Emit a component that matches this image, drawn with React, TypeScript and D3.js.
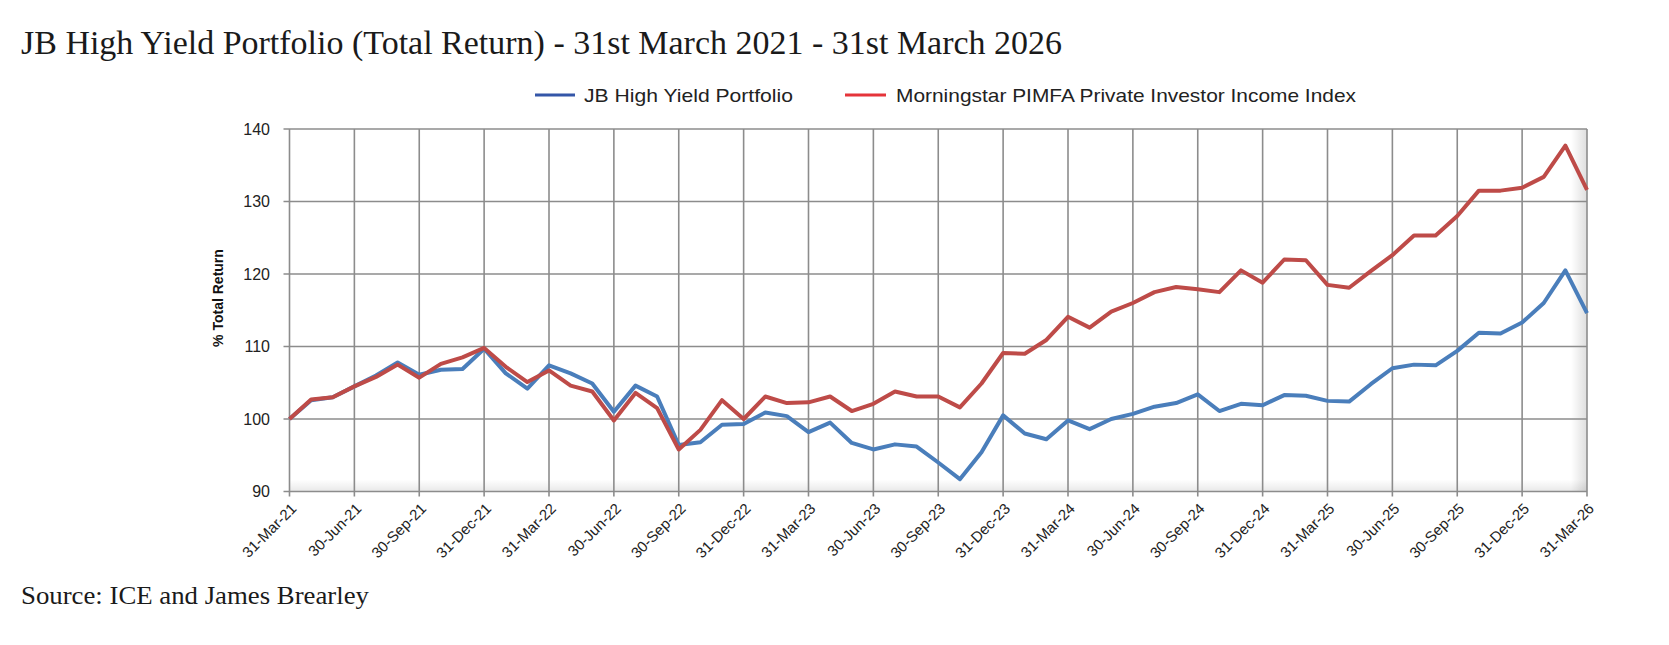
import React from 'react';
import * as d3 from 'd3';

// quarter-end tick labels on the x axis
const quarterLabels = [
  '31-Mar-21', '30-Jun-21', '30-Sep-21', '31-Dec-21',
  '31-Mar-22', '30-Jun-22', '30-Sep-22', '31-Dec-22',
  '31-Mar-23', '30-Jun-23', '30-Sep-23', '31-Dec-23',
  '31-Mar-24', '30-Jun-24', '30-Sep-24', '31-Dec-24',
  '31-Mar-25', '30-Jun-25', '30-Sep-25', '31-Dec-25',
  '31-Mar-26',
];

// monthly values, Mar-21 .. Mar-26
const jbHighYield = [
  100.0, 102.6, 103.0, 104.5, 106.0, 107.8, 106.1, 106.8, 106.9, 109.7,
  106.3, 104.2, 107.4, 106.3, 104.9, 101.0, 104.6, 103.1, 96.4, 96.8,
  99.2, 99.3, 100.9, 100.4, 98.2, 99.5, 96.7, 95.8, 96.5, 96.2,
  94.0, 91.7, 95.4, 100.5, 98.0, 97.2, 99.8, 98.6, 100.0, 100.7,
  101.7, 102.2, 103.4, 101.1, 102.1, 101.9, 103.3, 103.2, 102.5, 102.4,
  104.8, 107.0, 107.5, 107.4, 109.4, 111.9, 111.8, 113.3, 116.0, 120.5,
  114.6,
];

const pimfaIncome = [
  100.0, 102.7, 103.0, 104.5, 105.8, 107.5, 105.7, 107.6, 108.5, 109.8,
  107.2, 105.1, 106.7, 104.6, 103.8, 99.8, 103.6, 101.5, 95.8, 98.5,
  102.6, 100.0, 103.1, 102.2, 102.3, 103.1, 101.1, 102.1, 103.8, 103.1,
  103.1, 101.6, 104.9, 109.1, 109.0, 110.9, 114.1, 112.6, 114.8, 116.0,
  117.5, 118.2, 117.9, 117.5, 120.5, 118.8, 122.0, 121.9, 118.5, 118.1,
  120.4, 122.6, 125.3, 125.3, 128.0, 131.5, 131.5, 131.9, 133.4, 137.7,
  131.6,
];

const yTicks = [90, 100, 110, 120, 130, 140];

const seriesNames = ['JB High Yield Portfolio', 'Morningstar PIMFA Private Investor Income Index'];

const W = 1669;
const H = 645;
const plot = { left: 289.5, right: 1587, top: 129, bottom: 491.5 };

export default function App() {
  const x = d3.scaleLinear().domain([0, jbHighYield.length - 1]).range([plot.left, plot.right]);
  const y = d3.scaleLinear().domain([90, 140]).range([plot.bottom, plot.top]);
  const line = d3.line<number>()
    .x((d, i) => x(i))
    .y(d => y(d));

  const grid = '#8c8c8c';
  const sans = '"Liberation Sans", Arial, sans-serif';
  const serif = '"Liberation Serif", "Times New Roman", serif';

  return (
    <svg width={W} height={H} style={{ position: 'absolute', left: 0, top: 0, background: '#fff' }}>
      <defs>
        <linearGradient id="shadeR" x1="0" x2="1" y1="0" y2="0">
          <stop offset="0" stopColor="#000" stopOpacity="0" />
          <stop offset="1" stopColor="#000" stopOpacity="0.13" />
        </linearGradient>
        <linearGradient id="shadeB" x1="0" x2="0" y1="0" y2="1">
          <stop offset="0" stopColor="#000" stopOpacity="0" />
          <stop offset="1" stopColor="#000" stopOpacity="0.09" />
        </linearGradient>
      </defs>

      <text x={21} y={54} fontFamily={serif} fontSize={34} fill="#1a1a1a"
        textLength={1041} lengthAdjust="spacingAndGlyphs">
        JB High Yield Portfolio (Total Return) - 31st March 2021 - 31st March 2026
      </text>

      {/* legend */}
      <g fontFamily={sans} fontSize={19} fill="#222">
        <line x1={535} x2={575} y1={95} y2={95} stroke="#3456a8" strokeWidth={3} />
        <text x={584} y={101.5} textLength={209} lengthAdjust="spacingAndGlyphs">{seriesNames[0]}</text>
        <line x1={845} x2={886} y1={95} y2={95} stroke="#e5343a" strokeWidth={3} />
        <text x={896} y={101.5} textLength={460} lengthAdjust="spacingAndGlyphs">{seriesNames[1]}</text>
      </g>

      {/* plot shading */}
      <rect x={plot.right - 16} y={plot.top} width={16} height={plot.bottom - plot.top} fill="url(#shadeR)" />
      <rect x={plot.left} y={plot.bottom - 12} width={plot.right - plot.left} height={12} fill="url(#shadeB)" />

      {/* grid */}
      <g stroke={grid} strokeWidth={1.6}>
        {yTicks.map(t => (
          <line key={t} x1={plot.left - 6} x2={plot.right} y1={y(t)} y2={y(t)} />
        ))}
        {quarterLabels.map((q, i) => (
          <line key={q} x1={x(i * 3)} x2={x(i * 3)} y1={plot.top} y2={plot.bottom + 5} />
        ))}
      </g>

      {/* y axis labels */}
      <g fontFamily={sans} fontSize={16} fill="#222" textAnchor="end">
        {yTicks.map(t => (
          <text key={t} x={270} y={y(t) + 5.5}>{t}</text>
        ))}
      </g>
      <text transform="translate(223,298) rotate(-90)" textAnchor="middle" fontFamily={sans}
        fontSize={14} fontWeight="bold" fill="#111">% Total Return</text>

      {/* x axis labels */}
      <g fontFamily={sans} fontSize={15} fill="#222" textAnchor="end">
        {quarterLabels.map((q, i) => (
          <text key={q} transform={`translate(${x(i * 3) + 8},${plot.bottom + 18}) rotate(-45)`}>{q}</text>
        ))}
      </g>

      {/* series */}
      <path d={line(jbHighYield) ?? ''} fill="none" stroke="#4a7ebb" strokeWidth={4} strokeLinejoin="round" />
      <path d={line(pimfaIncome) ?? ''} fill="none" stroke="#be4b48" strokeWidth={4} strokeLinejoin="round" />

      <text x={21} y={603.5} fontFamily={serif} fontSize={26} fill="#1a1a1a"
        textLength={348} lengthAdjust="spacingAndGlyphs">
        Source: ICE and James Brearley
      </text>
    </svg>
  );
}
